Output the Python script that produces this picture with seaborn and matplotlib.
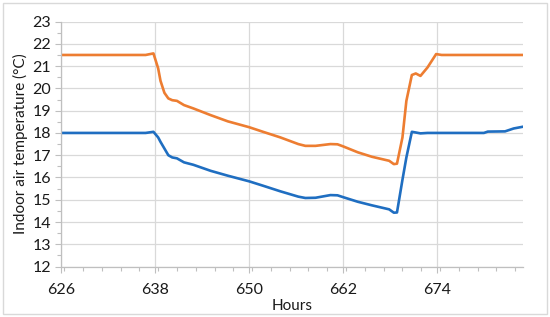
import matplotlib
matplotlib.use("Agg")
import matplotlib.pyplot as plt
import seaborn as sns
import pandas as pd
from matplotlib.ticker import MultipleLocator
from matplotlib.patches import Rectangle

hours = [626, 636.8, 637.8, 638.4, 638.7, 639.2, 639.7, 640.2, 640.8, 641.7,
         642.9, 645.1, 647.3, 650, 651.8, 654, 656.3, 657.2, 658.5, 660.4,
         661.3, 662, 663.9, 665.7, 667.9, 668.5, 668.9, 669.6, 670.1, 670.8,
         671.3, 671.9, 672.8, 673.9, 674.6, 680, 680.5, 682.7, 683.8, 685]

orange_temp = [21.5, 21.5, 21.57, 20.9, 20.34, 19.8, 19.55, 19.47, 19.44, 19.25,
               19.1, 18.8, 18.52, 18.26, 18.05, 17.8, 17.5, 17.42, 17.42, 17.5,
               17.49, 17.4, 17.13, 16.93, 16.75, 16.6, 16.62, 17.8, 19.44, 20.6,
               20.67, 20.56, 20.94, 21.54, 21.5, 21.5, 21.5, 21.5, 21.5, 21.5]

blue_temp = [18.0, 18.0, 18.05, 17.8, 17.6, 17.3, 17.0, 16.9, 16.86, 16.68,
             16.57, 16.3, 16.08, 15.83, 15.63, 15.38, 15.14, 15.08, 15.09, 15.21,
             15.2, 15.12, 14.91, 14.75, 14.57, 14.42, 14.43, 15.9, 16.9, 18.05,
             18.02, 17.98, 18.0, 18.0, 18.0, 18.0, 18.06, 18.07, 18.2, 18.28]

x_ticks = [626, 638, 650, 662, 674]
y_ticks = list(range(12, 24))

sns.set_theme(style="white")
plt.rcParams['font.family'] = ['Lato', 'DejaVu Sans']

df = pd.DataFrame({"Hours": hours, "orange": orange_temp, "blue": blue_temp})

fig = plt.figure(figsize=(5.5, 3.17), dpi=100)
ax = fig.add_axes([0.111, 0.159, 0.840, 0.773])

sns.lineplot(data=df, x="Hours", y="orange", ax=ax, color="#ED7D31", linewidth=1.9)
sns.lineplot(data=df, x="Hours", y="blue", ax=ax, color="#1F6EC1", linewidth=1.9)

ax.set_xlim(626, 685)
ax.set_ylim(12, 23)
ax.set_xticks(x_ticks)
ax.set_yticks(y_ticks)
ax.xaxis.set_minor_locator(MultipleLocator(2.4))
ax.yaxis.set_minor_locator(MultipleLocator(0.5))

ax.grid(True, which="major", color="#D9D9D9", linewidth=0.9)
ax.set_axisbelow(True)
for s in ["top", "right"]:
    ax.spines[s].set_visible(False)
for s in ["left", "bottom"]:
    ax.spines[s].set_color("#BFBFBF")
    ax.spines[s].set_linewidth(0.9)

ax.tick_params(axis="both", which="major", length=4, color="#BFBFBF", width=0.8,
               labelsize=11.5, labelcolor="#1A1A1A", direction="out", pad=3)
ax.tick_params(axis="both", which="minor", length=3, color="#BFBFBF", width=0.8,
               direction="out")
ax.tick_params(axis="x", which="both", bottom=True)
ax.tick_params(axis="y", which="both", left=True)
ax.tick_params(axis="x", pad=8)

ax.set_xlabel("Hours", fontsize=11, color="#1A1A1A", labelpad=1)
ax.set_ylabel("Indoor air temperature (°C)", fontsize=11, color="#1A1A1A", labelpad=3)

fig.patches.append(Rectangle((0.005, 0.008), 0.99, 0.984, transform=fig.transFigure,
                             fill=False, edgecolor="#D9D9D9", linewidth=1.0))

fig.savefig("out.png", dpi=100)
